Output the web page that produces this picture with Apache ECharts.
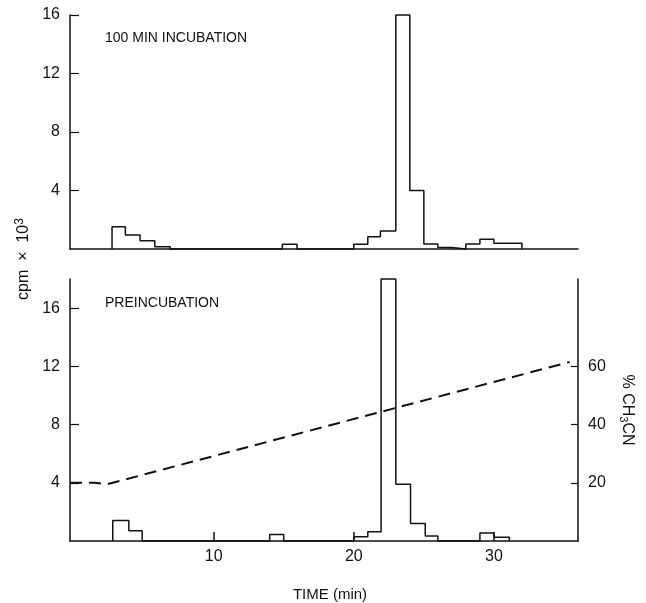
<!DOCTYPE html>
<html>
<head>
<meta charset="utf-8">
<script src="https://cdn.jsdelivr.net/npm/echarts@6/dist/echarts.min.js"></script>
<style>html,body{margin:0;padding:0;background:#fff;}#c{width:646px;height:603px;}</style>
</head>
<body>
<div id="c"></div>
<script>
// ---- data ----
// Top panel: "100 MIN INCUBATION" histogram (bin start time in min, cpm x 10^3)
const topBinStart = [2.75, 3.7, 4.75, 5.8, 6.9, 14.9, 15.95, 20, 21, 21.9, 23, 24, 25, 26, 27, 28, 29, 30, 32];
const topValues   = [1.52, 0.96, 0.57, 0.16, 0, 0.32, 0, 0.32, 0.84, 1.23, 16, 4.0, 0.34, 0.1, 0, 0.34, 0.66, 0.4, 0];
// Bottom panel: "PREINCUBATION" histogram
const bottomBinStart = [2.8, 3.95, 4.9, 14, 15, 20, 21, 21.95, 23, 24.05, 25.1, 26, 29, 30, 31.1];
const bottomValues   = [1.4, 0.7, 0, 0.45, 0, 0.3, 0.64, 18, 3.9, 1.2, 0.35, 0, 0.55, 0.25, 0];
// Acetonitrile gradient (% CH3CN)
const gradientTime = [-0.25, 1.5, 2.4, 35.4];
const gradientPct  = [20, 20, 19.5, 61.5];
// tick labels
const timeTicks = [10, 20, 30];
const topCpmTicks = [4, 8, 12, 16];
const bottomCpmTicks = [4, 8, 12, 16];
const pctTicks = [20, 40, 60];

const FONT = 'Liberation Sans';
function stepData(starts, vals) {
  const d = [[starts[0], 0]];
  for (let i = 0; i < starts.length; i++) d.push([starts[i], vals[i]]);
  return d;
}
const axisLine = { show: true, onZero: false, lineStyle: { color: '#111', width: 1.5 } };
const labelStyle = { color: '#111', fontFamily: FONT, fontSize: 16 };

const chart = echarts.init(document.getElementById('c'), null, { renderer: 'canvas' });
chart.setOption({
  animation: false,
  backgroundColor: '#fff',
  grid: [
    { left: 70, top: 15, right: 68, height: 234 },
    { left: 70, top: 279, right: 68, height: 262 }
  ],
  xAxis: [
    { type: 'value', gridIndex: 0, min: -0.25, max: 36, axisLine: axisLine,
      axisTick: { show: false }, axisLabel: { show: false }, splitLine: { show: false } },
    { type: 'value', gridIndex: 1, min: -0.25, max: 36, axisLine: axisLine,
      axisTick: { show: true, inside: true, length: 9, customValues: timeTicks, lineStyle: { color: '#111', width: 1.5 } },
      axisLabel: Object.assign({ customValues: timeTicks, margin: 8 }, labelStyle),
      splitLine: { show: false },
      name: 'TIME (min)', nameLocation: 'middle', nameGap: 46,
      nameTextStyle: { color: '#111', fontFamily: FONT, fontSize: 15, padding: [0, 0, 0, 12] } }
  ],
  yAxis: [
    { type: 'value', gridIndex: 0, min: 0, max: 16, axisLine: axisLine,
      axisTick: { show: true, inside: true, length: 9, customValues: topCpmTicks, lineStyle: { color: '#111', width: 1.2 } },
      axisLabel: Object.assign({ customValues: topCpmTicks, margin: 10 }, labelStyle),
      splitLine: { show: false } },
    { type: 'value', gridIndex: 1, min: 0, max: 18, axisLine: axisLine,
      axisTick: { show: true, inside: true, length: 9, customValues: bottomCpmTicks, lineStyle: { color: '#111', width: 1.2 } },
      axisLabel: Object.assign({ customValues: bottomCpmTicks, margin: 10 }, labelStyle),
      splitLine: { show: false } },
    { type: 'value', gridIndex: 1, position: 'right', min: 0, max: 90, axisLine: axisLine,
      axisTick: { show: true, inside: true, length: 7, customValues: pctTicks, lineStyle: { color: '#111', width: 1.2 } },
      axisLabel: Object.assign({ customValues: pctTicks, margin: 10 }, labelStyle),
      splitLine: { show: false },
      name: '% CH{sub|3}CN', nameLocation: 'middle', nameRotate: -90, nameGap: 40,
      nameTextStyle: { color: '#111', fontFamily: FONT, fontSize: 16,
        rich: { sub: { fontSize: 11, fontFamily: FONT, color: '#111', padding: [8, 0, 0, 0] } } } }
  ],
  series: [
    { type: 'line', xAxisIndex: 0, yAxisIndex: 0, step: 'end', symbol: 'none', clip: false,
      lineStyle: { color: '#111', width: 1.5 }, data: stepData(topBinStart, topValues) },
    { type: 'line', xAxisIndex: 1, yAxisIndex: 1, step: 'end', symbol: 'none', clip: false,
      lineStyle: { color: '#111', width: 1.5 }, data: stepData(bottomBinStart, bottomValues) },
    { type: 'line', xAxisIndex: 1, yAxisIndex: 2, symbol: 'none', clip: false,
      lineStyle: { color: '#111', width: 2, type: [12, 7] },
      data: gradientTime.map((t, i) => [t, gradientPct[i]]) }
  ],
  graphic: [
    { type: 'text', left: 105, top: 31, style: { text: '100 MIN INCUBATION', fill: '#111', font: '14px "Liberation Sans"' } },
    { type: 'text', left: 105, top: 296, style: { text: 'PREINCUBATION', fill: '#111', font: '14px "Liberation Sans"' } },
    { type: 'text', x: 24, y: 259, rotation: Math.PI / 2,
      style: { text: 'cpm  ×  10{sup|3}', fill: '#111', font: '16px "Liberation Sans"', align: 'center', verticalAlign: 'middle',
        rich: { sup: { fontSize: 12, fontFamily: FONT, fill: '#111', padding: [0, 0, 8, 0] } } } }
  ]
});
</script>
</body>
</html>
